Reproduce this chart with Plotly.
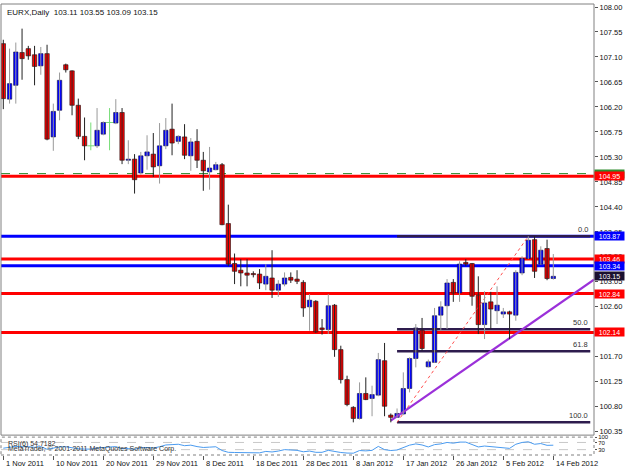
import plotly.graph_objects as go

# ---------------- data ----------------
opens = [107.34, 106.34, 106.59, 107.18, 107.25, 107.14, 106.94, 107.16, 105.66, 106.14,
         106.96, 106.85, 106.23, 105.67, 105.50, 105.50, 105.71, 105.92, 105.91, 106.10,
         105.24, 105.26, 105.01, 105.32, 105.35, 105.14, 105.50, 105.80, 105.58, 105.66,
         105.32, 105.58, 105.24, 105.03, 105.07, 105.16, 104.10, 103.38, 103.26, 103.21,
         103.20, 103.19, 103.01, 103.12, 102.90, 103.01, 103.13, 103.10, 103.04, 102.60,
         102.70, 102.22, 102.19, 102.63, 101.83, 101.29, 100.79, 100.59, 101.04, 100.95,
         101.01, 101.63, 100.65, 100.61, 100.67, 101.13, 101.67, 102.20, 101.52, 101.60,
         102.45, 102.62, 103.04, 102.85, 103.40, 103.38, 102.81, 102.28, 102.69, 102.53,
         102.47, 102.51, 102.45, 103.21, 103.47, 103.81, 103.37, 103.65, 103.11]
highs = [107.41, 107.25, 107.36, 107.61, 107.30, 107.30, 107.28, 107.32, 106.26, 106.82,
         106.98, 106.86, 106.35, 106.01, 105.92, 106.18, 105.94, 106.18, 106.34, 106.18,
         105.60, 105.35, 105.39, 105.69, 105.73, 105.91, 106.00, 106.26, 105.69, 105.89,
         105.64, 105.80, 105.39, 105.48, 105.21, 105.19, 104.44, 103.56, 103.46, 103.46,
         103.24, 103.28, 103.37, 103.62, 103.08, 103.22, 103.22, 103.26, 103.08, 102.83,
         102.72, 102.38, 102.83, 102.65, 101.90, 101.36, 100.81, 101.24, 101.33, 101.18,
         101.77, 101.95, 100.68, 100.77, 101.42, 101.69, 102.29, 102.40, 101.65, 102.58,
         102.70, 103.10, 103.10, 103.42, 103.46, 103.39, 103.15, 102.88, 102.87, 102.97,
         102.58, 102.53, 103.26, 103.51, 103.87, 103.87, 103.69, 103.81, 103.55]
lows = [106.16, 106.26, 106.26, 106.69, 107.05, 106.59, 106.78, 105.60, 105.41, 105.96,
        106.82, 106.05, 105.62, 105.24, 105.42, 105.46, 105.69, 105.42, 105.89, 105.17,
        105.17, 104.64, 104.98, 105.07, 104.94, 104.82, 105.44, 105.33, 105.53, 105.26,
        105.05, 105.10, 104.69, 104.71, 105.06, 104.07, 103.33, 103.01, 102.97, 102.97,
        103.13, 102.92, 102.90, 102.76, 102.78, 102.97, 103.03, 103.01, 102.42, 102.17,
        102.13, 102.10, 102.11, 101.70, 101.22, 100.81, 100.52, 100.57, 100.92, 100.63,
        100.99, 100.63, 100.52, 100.60, 100.65, 101.06, 101.51, 101.81, 101.51, 101.59,
        102.17, 102.20, 102.69, 102.69, 103.33, 102.62, 102.11, 102.02, 102.20, 102.29,
        102.40, 102.02, 102.35, 103.17, 103.46, 103.12, 103.36, 103.08, 103.09]
closes = [106.35, 106.62, 107.19, 107.07, 107.12, 106.93, 107.16, 105.62, 106.12, 106.68,
          106.87, 106.23, 105.67, 105.50, 105.50, 105.78, 105.92, 105.92, 106.10, 105.24,
          105.26, 104.89, 105.32, 105.39, 105.12, 105.50, 105.78, 105.55, 105.67, 105.33,
          105.57, 105.24, 105.05, 105.10, 105.16, 104.08, 103.37, 103.24, 103.21, 103.17,
          103.18, 103.03, 103.15, 102.90, 103.01, 103.12, 103.08, 103.06, 102.58, 102.72,
          102.15, 102.19, 102.62, 101.83, 101.29, 100.84, 100.59, 101.04, 100.93, 101.02,
          101.65, 100.81, 100.61, 100.68, 101.13, 101.67, 102.22, 101.85, 101.61, 102.44,
          102.60, 103.03, 102.85, 103.37, 103.37, 102.79, 102.28, 102.67, 102.56, 102.63,
          102.51, 102.47, 103.22, 103.47, 103.80, 103.24, 103.62, 103.11, 103.15]
rsi_values = [38, 42, 48, 46, 47, 43, 47, 32, 38, 45,
              46, 40, 35, 33, 33, 39, 43, 43, 47, 35,
              36, 32, 40, 42, 39, 46, 56, 58, 60, 52,
              55, 47, 42, 44, 46, 25, 15, 14, 13, 12,
              13, 12, 20, 17, 22, 30, 28, 26, 18, 22,
              15, 15, 26, 18, 14, 11, 10, 25, 23, 26,
              48, 30, 25, 28, 42, 55, 62, 56, 45, 58,
              62, 70, 66, 72, 72, 58, 45, 50, 46, 42,
              38, 37, 60, 70, 74, 60, 64, 54, 54.7182]

date_ticks = [0, 8, 16, 24, 32, 40, 48, 56, 64, 72, 80, 88]
date_labels = ["1 Nov 2011", "10 Nov 2011", "20 Nov 2011", "29 Nov 2011", "8 Dec 2011",
               "18 Dec 2011", "28 Dec 2011", "8 Jan 2012", "17 Jan 2012", "26 Jan 2012",
               "5 Feb 2012", "14 Feb 2012"]
price_ticks = [100.35, 100.80, 101.25, 101.70, 102.15, 102.60, 103.05, 103.50, 103.95,
               104.40, 104.85, 105.30, 105.75, 106.20, 106.65, 107.10, 107.55, 108.00]

red_levels = [104.95, 103.46, 102.84, 102.14]
blue_levels = [103.87, 103.34]
green_levels = [105.00]

fib_bars = [63, 84]
fib_prices = [100.52, 103.87]
fib_ratios = [0.0, 50.0, 61.8, 100.0]

trend_bars = [62, 94.5]
trend_prices = [100.55, 103.09]

rsi_levels = [70, 30]

FONT = "Liberation Sans"
X_RANGE = [-0.37, 94.51]

fig = go.Figure()

idx = list(range(len(closes)))
bull = [i for i in idx if closes[i] > opens[i]]
bear = [i for i in idx if closes[i] < opens[i]]
doji = [i for i in idx if closes[i] == opens[i]]


def wick_xy(ids):
    xs, ys = [], []
    for i in ids:
        xs += [i, i, None]
        ys += [lows[i], highs[i], None]
    return xs, ys


# fibonacci retracement
fx0, fx1 = fib_bars
flo, fhi = fib_prices
for r in fib_ratios:
    lvl = fhi - (fhi - flo) * r / 100.0
    fig.add_trace(go.Scatter(x=[fx0, X_RANGE[1] - 0.6], y=[lvl, lvl], mode="lines",
                             line=dict(color="#2E1C4E", width=2.5), hoverinfo="skip",
                             showlegend=False))
    fig.add_annotation(x=X_RANGE[1] - 0.6, y=lvl, xref="x", yref="y", text=f"{r:.1f}",
                       showarrow=False, xanchor="right", yanchor="bottom", yshift=0,
                       font=dict(family=FONT, size=7.5, color="#333333"))
fig.add_trace(go.Scatter(x=fib_bars, y=fib_prices, mode="lines",
                         line=dict(color="#FF5050", width=1, dash="dot"),
                         hoverinfo="skip", showlegend=False))

# trend line
fig.add_trace(go.Scatter(x=trend_bars, y=trend_prices, mode="lines",
                         line=dict(color="#9B30D9", width=2.2), hoverinfo="skip",
                         showlegend=False))

# wicks
for ids, col in ((bull, "#999999"), (bear, "#222222"), (doji, "#77DD77")):
    wx, wy = wick_xy(ids)
    fig.add_trace(go.Scatter(x=wx, y=wy, mode="lines", line=dict(color=col, width=1),
                             hoverinfo="skip", showlegend=False))

# bodies
fig.add_trace(go.Bar(x=bull, base=[opens[i] for i in bull],
                     y=[closes[i] - opens[i] for i in bull], width=0.7,
                     marker=dict(color="#0000FF", line=dict(color="#10103A", width=0.6)),
                     hoverinfo="skip", showlegend=False))
fig.add_trace(go.Bar(x=bear, base=[closes[i] for i in bear],
                     y=[opens[i] - closes[i] for i in bear], width=0.7,
                     marker=dict(color="#FF0000", line=dict(color="#1A0A0A", width=0.6)),
                     hoverinfo="skip", showlegend=False))
fig.add_trace(go.Scatter(x=doji, y=[closes[i] for i in doji], mode="markers",
                         marker=dict(symbol="line-ew", size=5,
                                     line=dict(color="#77DD77", width=1)),
                         hoverinfo="skip", showlegend=False))

# RSI
fig.add_trace(go.Scatter(x=idx, y=rsi_values, mode="lines", yaxis="y2",
                         line=dict(color="#4A9BF0", width=1), hoverinfo="skip",
                         showlegend=False))

shapes = []
for lv in green_levels:
    shapes.append(dict(type="line", xref="paper", x0=0, x1=1, yref="y", y0=lv, y1=lv,
                       line=dict(color="#2E8B2E", width=1, dash="dash"), layer="below"))
for lv in red_levels:
    shapes.append(dict(type="line", xref="paper", x0=0, x1=1, yref="y", y0=lv, y1=lv,
                       line=dict(color="#FF0000", width=3), layer="below"))
for lv in blue_levels:
    shapes.append(dict(type="line", xref="paper", x0=0, x1=1, yref="y", y0=lv, y1=lv,
                       line=dict(color="#0000FF", width=3), layer="below"))
for lv in rsi_levels:
    shapes.append(dict(type="line", xref="paper", x0=0, x1=1, yref="y2", y0=lv, y1=lv,
                       line=dict(color="#C8C8C8", width=1, dash="dash"), layer="below"))
MAIN_DOM = [0.0441, 1.0]
RSI_DOM = [0.0, 0.0397]
shapes.append(dict(type="rect", xref="paper", yref="paper", x0=0, x1=1,
                   y0=MAIN_DOM[0], y1=MAIN_DOM[1], line=dict(color="#808080", width=1)))
shapes.append(dict(type="rect", xref="paper", yref="paper", x0=0, x1=1,
                   y0=RSI_DOM[0], y1=RSI_DOM[1], line=dict(color="#808080", width=1, dash="dot")))

ann = []
# price label boxes on the axis
for lv in green_levels:
    ann.append((lv, "#2E8B2E"))
for lv in red_levels:
    ann.append((lv, "#FF0000"))
for lv in blue_levels:
    ann.append((lv, "#0000FF"))
ann.append((closes[-1], "#1A1030"))
for lv, col in ann:
    fig.add_annotation(x=1, xref="paper", y=lv, yref="y", text=f"{lv:.2f}", showarrow=False,
                       xanchor="left", xshift=0, bgcolor=col, width=29, height=8,
                       borderpad=0, font=dict(family=FONT, size=7, color="white"))

# header
fig.add_annotation(x=0, xref="paper", y=1, yref="paper", xanchor="left", yanchor="top",
                   xshift=4, yshift=-2, showarrow=False,
                   text=f"EURX,Daily\u00a0\u00a0{opens[-1]:.2f} {highs[-1]:.2f} {lows[-1]:.2f} {closes[-1]:.2f}",
                   font=dict(family=FONT, size=8, color="#111111"))
# RSI texts
fig.add_annotation(x=0, xref="paper", y=RSI_DOM[1], yref="paper", xanchor="left",
                   yanchor="top", xshift=5, yshift=-1, showarrow=False,
                   text=f"RSI(6) {rsi_values[-1]:.4f}",
                   font=dict(family=FONT, size=7, color="#333333"))
fig.add_annotation(x=0, xref="paper", y=RSI_DOM[1], yref="paper", xanchor="left",
                   yanchor="top", xshift=5, yshift=-6, showarrow=False,
                   text="MetaTrader, © 2001-2011 MetaQuotes Software Corp.",
                   font=dict(family=FONT, size=7, color="#333333"))
# date labels
for t, lab in zip(date_ticks, date_labels):
    fig.add_annotation(x=t, xref="x", y=0, yref="paper", xanchor="left", yanchor="top",
                       xshift=1, yshift=-2, showarrow=False, text=lab,
                       font=dict(family=FONT, size=7.5, color="#111111"))

fig.update_layout(
    width=625, height=469,
    margin=dict(l=1, r=31, t=1, b=14, pad=0),
    paper_bgcolor="white", plot_bgcolor="white",
    barmode="overlay", showlegend=False,
    shapes=shapes,
    xaxis=dict(domain=[0, 1], range=X_RANGE, anchor="y2", showgrid=False, zeroline=False,
               tickvals=date_ticks, ticks="outside", ticklen=4, tickcolor="#555555",
               showticklabels=False, showline=False, fixedrange=True),
    yaxis=dict(domain=MAIN_DOM, range=[100.29, 108.054], side="right", anchor="x",
               tickvals=price_ticks, ticktext=[f"{p:.2f}" for p in price_ticks],
               ticks="outside", ticklen=3, tickcolor="#555555", showgrid=False,
               zeroline=False, showline=False,
               tickfont=dict(family=FONT, size=7.5, color="#111111")),
    yaxis2=dict(domain=RSI_DOM, range=[0, 100], side="right", anchor="x",
                tickvals=[100, 70, 30], ticktext=["100", "70", "30"], ticks="outside",
                ticklen=2, tickcolor="#555555", showgrid=False, zeroline=False,
                tickfont=dict(family=FONT, size=6, color="#111111")),
)

fig.write_html("out.html")
